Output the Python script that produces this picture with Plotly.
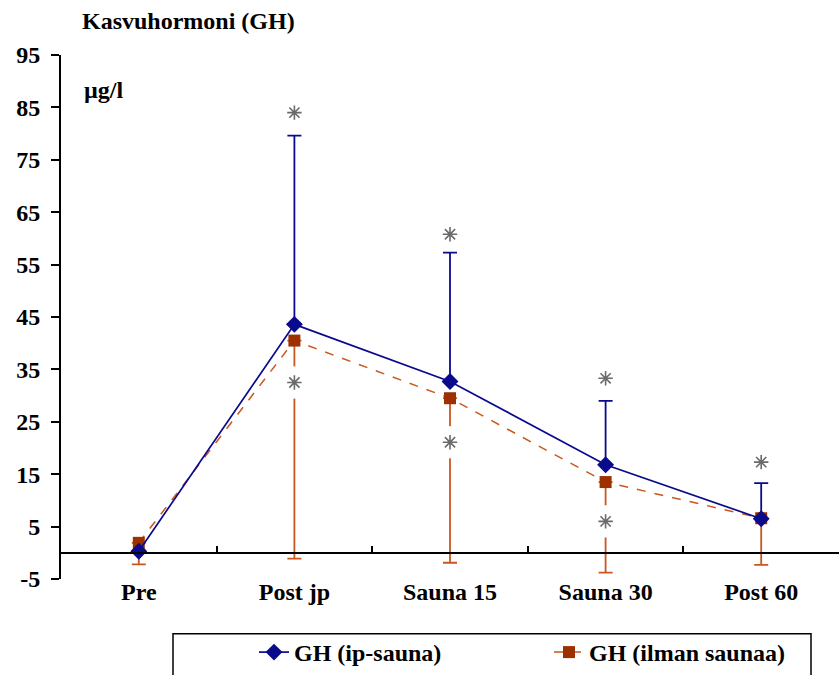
import plotly.graph_objects as go

# Growth hormone (GH), µg/l, at five sampling points
categories = ["Pre", "Post jp", "Sauna 15", "Sauna 30", "Post 60"]

gh_sauna = [0.3, 43.6, 32.7, 16.8, 6.5]          # GH (ip-sauna), mean
gh_sauna_sd = [0.0, 36.0, 24.6, 12.2, 6.8]       # upward error

gh_nosauna = [1.9, 40.5, 29.5, 13.5, 6.6]        # GH (ilman saunaa), mean
gh_nosauna_sd = [4.1, 41.6, 31.4, 17.3, 8.9]     # downward error

# significance marks
star_sauna_x = ["Post jp", "Sauna 15", "Sauna 30", "Post 60"]
star_sauna_y = [84.0, 60.8, 33.3, 17.3]
star_nosauna_x = ["Post jp", "Sauna 15", "Sauna 30"]
star_nosauna_y = [32.5, 21.1, 6.0]

y_ticks = list(range(-5, 96, 10))
y_tick_labels = [str(v) for v in y_ticks]

BLUE = "#0A0A8C"
ORANGE_LINE = "#C8581E"
ORANGE_MARK = "#9E3000"
STAR = "#6a6a6a"
FONT = '"Liberation Serif", "Times New Roman", Times, serif'

fig = go.Figure()

fig.add_trace(go.Scatter(
    x=categories, y=gh_nosauna, name="GH (ilman saunaa)", legend="legend2",
    mode="lines+markers",
    line=dict(color=ORANGE_LINE, width=1.5, dash="dash"),
    marker=dict(symbol="square", size=12, color=ORANGE_MARK),
    error_y=dict(type="data", symmetric=False,
                 array=[0] * len(gh_nosauna_sd), arrayminus=gh_nosauna_sd,
                 color=ORANGE_LINE, thickness=1.8, width=7),
))

# white breaks in the error bars behind the lower significance marks
fig.add_trace(go.Scatter(
    x=star_nosauna_x, y=star_nosauna_y, mode="markers",
    marker=dict(symbol="line-ns-open", size=23, color="white",
                line=dict(color="white", width=10)),
    showlegend=False, hoverinfo="skip",
))

fig.add_trace(go.Scatter(
    x=categories, y=gh_sauna, name="GH (ip-sauna)", legend="legend",
    mode="lines+markers",
    line=dict(color=BLUE, width=1.7),
    marker=dict(symbol="diamond", size=13, color=BLUE),
    error_y=dict(type="data", symmetric=False,
                 array=gh_sauna_sd, arrayminus=[0] * len(gh_sauna_sd),
                 color=BLUE, thickness=1.8, width=7),
))

fig.add_trace(go.Scatter(
    x=star_sauna_x + star_nosauna_x, y=star_sauna_y + star_nosauna_y,
    mode="markers",
    marker=dict(symbol="asterisk-open", size=12, color=STAR,
                line=dict(color=STAR, width=1.6)),
    showlegend=False, hoverinfo="skip",
))

# overlay axis carrying the baseline at zero with category separators
fig.add_trace(go.Scatter(x=[None], y=[None], xaxis="x2", showlegend=False,
                         hoverinfo="skip"))

y_lo, y_hi = -5, 95
legend_y = (579.3 - 653) / 524.7
legend_common = dict(orientation="h", yref="paper", y=legend_y,
                     xanchor="left", yanchor="middle",
                     bgcolor="rgba(0,0,0,0)", borderwidth=0,
                     font=dict(family=FONT, size=24, weight="bold"))

fig.update_layout(
    width=839, height=675, autosize=False,
    margin=dict(l=61, r=0, t=55, b=96),
    paper_bgcolor="white", plot_bgcolor="white",
    font=dict(family=FONT, size=24, color="black", weight="bold"),
    title=dict(text="Kasvuhormoni (GH)", xref="container", yref="container",
               x=82 / 839, y=1 - 21 / 675, xanchor="left", yanchor="middle",
               font=dict(family=FONT, size=24, weight="bold")),
    xaxis=dict(type="category", categoryarray=categories,
               range=[-0.5, len(categories) - 0.5],
               showline=False, showgrid=False, zeroline=False, ticks="",
               tickfont=dict(family=FONT, size=24, weight="bold"),
               ticklabelstandoff=-4),
    xaxis2=dict(overlaying="x", anchor="free",
                position=(0 - y_lo) / (y_hi - y_lo),
                range=[-0.5, len(categories) - 0.5],
                tickvals=[i + 0.5 for i in range(len(categories) - 1)],
                showticklabels=False, showline=True, linecolor="black",
                linewidth=2, ticks="inside", ticklen=6, tickwidth=1.5,
                tickcolor="black", showgrid=False, zeroline=False),
    yaxis=dict(range=[y_lo, y_hi], tickvals=y_ticks, ticktext=y_tick_labels,
               showline=True, linecolor="black", linewidth=2,
               ticks="outside", ticklen=8, tickwidth=1.5, tickcolor="black",
               showgrid=False, zeroline=False,
               tickfont=dict(family=FONT, size=24, weight="bold"),
               ticklabelstandoff=6),
    legend=dict(x=(254 - 61) / 778, **legend_common),
    legend2=dict(x=(549 - 61) / 778, **legend_common),
    annotations=[dict(text="µg/l", xref="paper", yref="paper",
                      x=(82 - 61) / 778, y=(579.3 - 90) / 524.7,
                      xanchor="left", yanchor="middle", showarrow=False,
                      font=dict(family=FONT, size=24, weight="bold"))],
    shapes=[dict(type="rect", xref="paper", yref="paper",
                 x0=(173 - 61) / 778, x1=(811 - 61) / 778,
                 y0=(579.3 - 634) / 524.7, y1=(579.3 - 700) / 524.7,
                 line=dict(color="black", width=1.5))],
)

fig.write_html("out.html")
